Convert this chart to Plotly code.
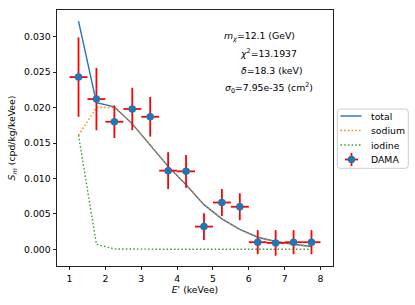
import plotly.graph_objects as go

# ---- data ----
energy = [1.25, 1.75, 2.25, 2.75, 3.25, 3.75, 4.25, 4.75, 5.25, 5.75, 6.25, 6.75, 7.25, 7.75]
dama = [0.0243, 0.0212, 0.0180, 0.0198, 0.0187, 0.0111, 0.0110, 0.0032, 0.0066, 0.0060, 0.0010, 0.0009, 0.0010, 0.0010]
dama_err = [0.0056, 0.0044, 0.0023, 0.0030, 0.0028, 0.0026, 0.0023, 0.0019, 0.0019, 0.0019, 0.0017, 0.0018, 0.0017, 0.0017]
bin_halfwidth = [0.25] * len(energy)
total = [0.0322, 0.0207, 0.0201, 0.0177, 0.0147, 0.0117, 0.0091, 0.0063, 0.0043, 0.0028, 0.0017, 0.0011, 0.0007, 0.0004]
sodium = [0.0161, 0.0200, 0.0200, 0.0177, 0.0147, 0.0117, 0.0091, 0.0063, 0.0043, 0.0028, 0.0017, 0.0011, 0.0007, 0.0004]
iodine = [0.0161, 0.0007, 0.00005, 0.0, 0.0, 0.0, 0.0, 0.0, 0.0, 0.0, 0.0, 0.0, 0.0, 0.0]
x_ticks = [1, 2, 3, 4, 5, 6, 7, 8]
y_ticks = [0.000, 0.005, 0.010, 0.015, 0.020, 0.025, 0.030]
info_lines = [
    "<i>m</i><sub><i>χ</i></sub>=12.1 (GeV)",
    "<i>χ</i><sup>2</sup>=13.1937",
    "<i>δ</i>=18.3 (keV)",
    "<i>σ</i><sub>0</sub>=7.95e-35 (cm<sup>2</sup>)",
]
legend_names = ["total", "sodium", "iodine", "DAMA"]

BLUE, ORANGE, GREEN = "#1f77b4", "#ff7f0e", "#2ca02c"
DOT = "1.5px,2.2px"
FONT = "DejaVu Sans"
FS = 9.3
W, H = 415, 305
L, R, T, B = 57, 82, 10, 39
PW, PH = W - L - R, H - T - B


def px_x(px):
    return (px - L) / PW


def px_y(py):
    return (H - B - py) / PH


fig = go.Figure()
fig.add_trace(go.Scatter(x=energy, y=total, mode="lines", name="total", showlegend=False,
                         line=dict(color=BLUE, width=1.4)))
fig.add_trace(go.Scatter(x=energy, y=sodium, mode="lines", name="sodium", showlegend=False,
                         line=dict(color=ORANGE, width=1.4, dash=DOT)))
fig.add_trace(go.Scatter(x=energy, y=iodine, mode="lines", name="iodine", showlegend=False,
                         line=dict(color=GREEN, width=1.4, dash=DOT)))
fig.add_trace(go.Scatter(
    x=energy, y=dama, mode="markers", name="DAMA", showlegend=False,
    marker=dict(color=BLUE, size=7.5, line=dict(width=0)),
    error_y=dict(type="data", array=dama_err, color="red", thickness=1.8, width=0),
    error_x=dict(type="data", array=bin_halfwidth, color="red", thickness=1.8, width=0),
))

# info text block
centers = [259, 268, 272, 269]
ys = [36, 53, 70, 87.5]
for txt, cx, cy in zip(info_lines, centers, ys):
    fig.add_annotation(text=txt, x=px_x(cx), y=px_y(cy), xref="paper", yref="paper",
                       xanchor="center", yanchor="middle", showarrow=False,
                       font=dict(family=FONT, size=FS, color="black"))

# ---- legend (drawn manually to match layout) ----
lx0, lx1, ly0, ly1, rad = 337.3, 408.3, 109, 168.3, 3
X = px_x
Y = px_y
path = (f"M {X(lx0+rad)},{Y(ly0)} L {X(lx1-rad)},{Y(ly0)} Q {X(lx1)},{Y(ly0)} {X(lx1)},{Y(ly0+rad)} "
        f"L {X(lx1)},{Y(ly1-rad)} Q {X(lx1)},{Y(ly1)} {X(lx1-rad)},{Y(ly1)} "
        f"L {X(lx0+rad)},{Y(ly1)} Q {X(lx0)},{Y(ly1)} {X(lx0)},{Y(ly1-rad)} "
        f"L {X(lx0)},{Y(ly0+rad)} Q {X(lx0)},{Y(ly0)} {X(lx0+rad)},{Y(ly0)} Z")
fig.add_shape(type="path", path=path, xref="paper", yref="paper",
              fillcolor="rgba(255,255,255,0.8)", line=dict(color="#cccccc", width=1))

entry_y = [116, 130.5, 145, 159.5]
handle_x0, handle_x1 = 340.5, 361.5
styles = [dict(color=BLUE, width=1.4), dict(color=ORANGE, width=1.4, dash=DOT),
          dict(color=GREEN, width=1.4, dash=DOT)]
for ey, st in zip(entry_y[:3], styles):
    fig.add_shape(type="line", xref="paper", yref="paper",
                  x0=X(handle_x0), x1=X(handle_x1), y0=Y(ey), y1=Y(ey), line=st)
# DAMA handle: marker with error bars
mx, my = 351.5, entry_y[3]
fig.add_shape(type="line", xref="paper", yref="paper", x0=X(mx - 6.5), x1=X(mx + 6.5),
              y0=Y(my), y1=Y(my), line=dict(color="red", width=1.8))
fig.add_shape(type="line", xref="paper", yref="paper", x0=X(mx), x1=X(mx),
              y0=Y(my - 6.5), y1=Y(my + 6.5), line=dict(color="red", width=1.8))
fig.add_shape(type="circle", xref="paper", yref="paper", xsizemode="pixel", ysizemode="pixel",
              xanchor=X(mx), yanchor=Y(my), x0=-3.7, x1=3.7, y0=-3.7, y1=3.7,
              fillcolor=BLUE, line=dict(width=0))
for name, ey in zip(legend_names, entry_y):
    fig.add_annotation(text=name, x=X(369), y=Y(ey), xref="paper", yref="paper",
                       xanchor="left", yanchor="middle", showarrow=False,
                       font=dict(family=FONT, size=FS, color="black"))

axis_common = dict(
    showline=True, linecolor="#222", linewidth=0.9, mirror=True,
    ticks="outside", ticklen=3.5, tickwidth=0.8, tickcolor="#222",
    showgrid=False, zeroline=False, automargin=False,
    tickfont=dict(family=FONT, size=FS, color="black"),
)

fig.update_layout(
    width=W, height=H,
    margin=dict(l=L, r=R, t=T, b=B, autoexpand=False),
    paper_bgcolor="white", plot_bgcolor="white",
    font=dict(family=FONT, size=FS, color="black"),
    xaxis=dict(range=[0.65, 8.35], tickvals=x_ticks,
               title=dict(text="<i>E'</i> (keVee)", font=dict(family=FONT, size=FS, color="black"),
                          standoff=3),
               **axis_common),
    yaxis=dict(range=[-0.00236, 0.03377], tickvals=y_ticks, tickformat=".3f",
               title=dict(text="<i>S</i><sub><i>m</i></sub> (cpd/kg/keVee)",
                          font=dict(family=FONT, size=FS, color="black"), standoff=6),
               **axis_common),
    showlegend=False,
)

fig.write_html("out.html", config={"displayModeBar": False},
               post_script="document.body.style.margin='0';document.body.style.overflow='hidden';")
